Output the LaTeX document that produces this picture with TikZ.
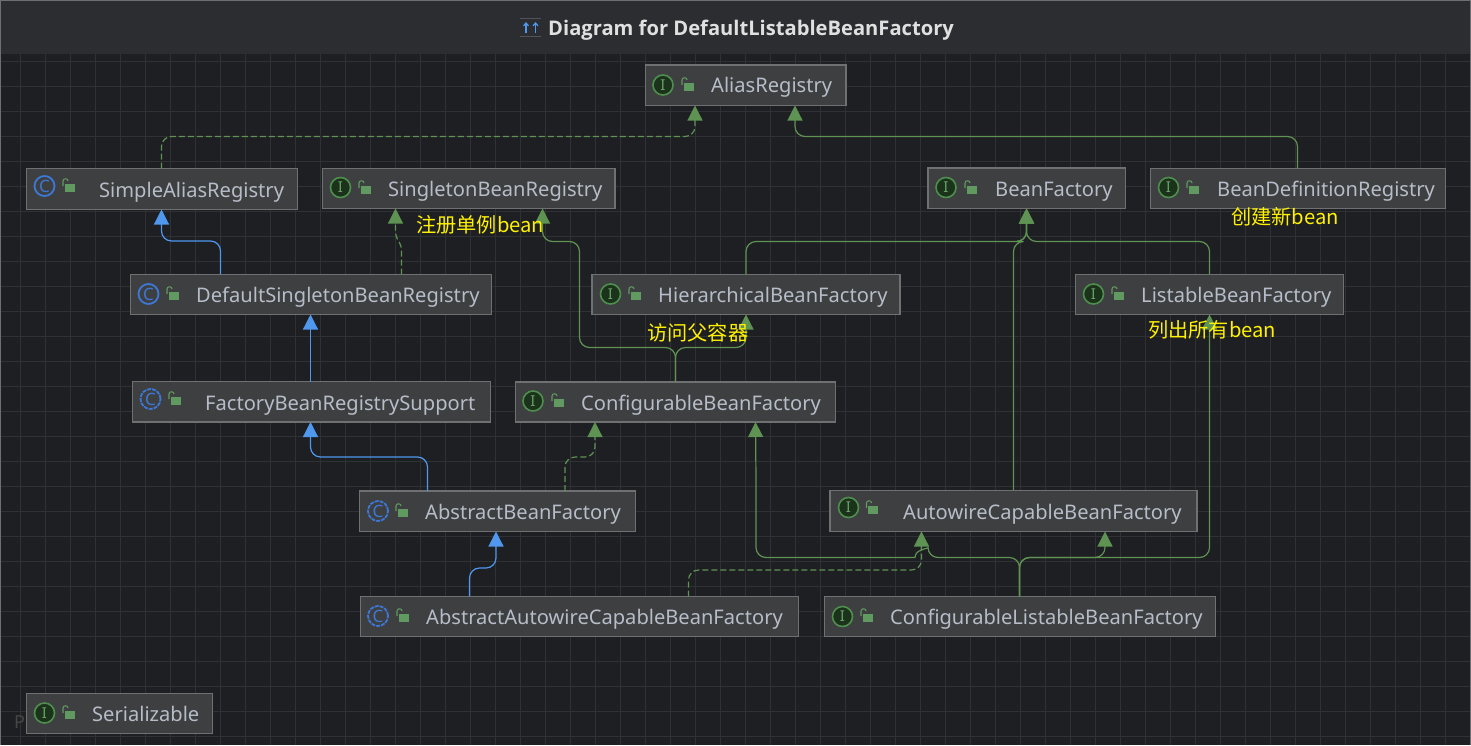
\documentclass[tikz,border=0pt]{standalone}
\usepackage{fontspec}
\setmainfont{Noto Sans}
\newfontfamily\cjk{Noto Sans CJK SC}
\newfontfamily\headfont{Open Sans}
\usetikzlibrary{arrows.meta}
\definecolor{canvasbg}{HTML}{1E1F22}
\definecolor{gridcol}{HTML}{303134}
\definecolor{barbg}{HTML}{2B2D30}
\definecolor{boxbg}{HTML}{3E3F41}
\definecolor{boxline}{HTML}{6F7071}
\definecolor{namecol}{HTML}{B7BDC8}
\definecolor{greenline}{HTML}{5F9353}
\definecolor{greentip}{HTML}{5F9353}
\definecolor{blueline}{HTML}{4F98EE}
\definecolor{classcol}{HTML}{3D78D6}
\definecolor{ifacecol}{HTML}{4E8F4E}
\begin{document}
\begin{tikzpicture}[x=1pt,y=-1pt,
box/.style={draw=boxline,fill=boxbg,line width=1.2pt,inner sep=0pt,outer sep=0pt},
cname/.style={anchor=west,inner sep=0pt,text height=20pt,text depth=5pt,text=namecol,font=\fontsize{20.1}{24}\selectfont},
iface/.style={circle,draw=ifacecol,fill=ifacecol!35!black,line width=1.6pt,minimum size=20pt,inner sep=0pt,text=ifacecol!85!white,font=\fontsize{15}{16}\selectfont},
classic/.style={circle,draw=classcol,line width=1.8pt,minimum size=20pt,inner sep=0pt,text=classcol,font=\fontsize{17}{17}\selectfont},
abstractic/.style={classic,dash pattern=on 4pt off 1pt},
padlock/.pic={\fill[ifacecol!90!white] (-4.5,-3.5) rectangle (5.5,4.5);
  \draw[ifacecol!90!white,line width=1.1pt] (-6,-1) -- (-6,-6) .. controls (-6,-9) and (-1,-9) .. (-1,-6);},
note/.style={inner sep=0pt,text=yellow,font=\cjk\fontsize{20.2}{24}\selectfont},
implements/.style={draw=greenline,line width=1.2pt,rounded corners=10pt,dash pattern=on 6pt off 3pt,-{Triangle[length=15pt,width=15pt,fill=greentip,color=greentip]}},
extendsif/.style={draw=greenline,line width=1.2pt,rounded corners=10pt,-{Triangle[length=15pt,width=15pt,fill=greentip,color=greentip]}},
extendscl/.style={draw=blueline,line width=1.2pt,rounded corners=10pt,-{Triangle[length=15pt,width=15pt,fill=blueline,color=blueline]}}
]
\useasboundingbox (0,0) rectangle (1471,745);
\fill[canvasbg] (0,0) rectangle (1471,745);
\draw[gridcol,line width=0.9pt,shift={(20.5,11)}] (-20.5,43) grid[step=25pt] (1450.5,734);
\fill[barbg] (0,0) rectangle (1471,54);
\draw[gridcol!70!white,line width=1pt] (0.5,745) -- (0.5,0.5) -- (1470.5,0.5) -- (1470.5,745);

% title bar
\draw[boxline!120!white,line width=1pt] (520,18.5) -- (541,18.5) (520,36) -- (541,36);
\draw[blueline,line width=1.2pt,-{Straight Barb[length=3pt,width=5pt]}] (526,33) -- (526,22);
\draw[blueline,line width=1.2pt,-{Straight Barb[length=3pt,width=5pt]}] (535.5,33) -- (535.5,22);
\node[anchor=west,inner sep=0pt,text=white!88!black,font=\headfont\fontsize{20.15}{24}\selectfont\bfseries] (title) at (548,30) {Diagram for DefaultListableBeanFactory};

% faint watermark under the last box
\node[anchor=west,inner sep=0pt,text=gridcol!90!white,font=\fontsize{18}{20}\selectfont] (mark) at (14,722) {P};

% classes
\node[box,minimum width=200.5pt,minimum height=40.5pt] (aliasReg) at (745.75,85.25) {};
\node[iface] (aliasRegI) at (663,85) {I}; \pic at (688,86) {padlock}; \node[cname] (aliasRegT) at (711,85) {AliasRegistry};

\node[box,minimum width=271pt,minimum height=41pt] (simpleAlias) at (162,189) {};
\node[classic] (simpleAliasI) at (44.5,186) {C}; \pic at (69,187) {padlock}; \node[cname] (simpleAliasT) at (99,190) {SimpleAliasRegistry};

\node[box,minimum width=292.5pt,minimum height=40pt] (singletonReg) at (468.75,188.5) {};
\node[iface] (singletonRegI) at (340.5,187.5) {I}; \pic at (365,189) {padlock}; \node[cname] (singletonRegT) at (388,189) {SingletonBeanRegistry};

\node[box,minimum width=197.5pt,minimum height=40.5pt] (beanFactory) at (1026.75,188.25) {};
\node[iface] (beanFactoryI) at (946,187.5) {I}; \pic at (971,189) {padlock}; \node[cname] (beanFactoryT) at (995,189) {BeanFactory};

\node[box,minimum width=295pt,minimum height=40pt] (beanDefReg) at (1298,188.5) {};
\node[iface] (beanDefRegI) at (1168.5,187.5) {I}; \pic at (1193,189) {padlock}; \node[cname] (beanDefRegT) at (1217,189) {BeanDefinitionRegistry};

\node[box,minimum width=361pt,minimum height=40pt] (defaultSingleton) at (311,294.5) {};
\node[classic] (defaultSingletonI) at (148.5,294) {C}; \pic at (173,295) {padlock}; \node[cname] (defaultSingletonT) at (196,295) {DefaultSingletonBeanRegistry};

\node[box,minimum width=308pt,minimum height=40pt] (hierarchical) at (746,294.5) {};
\node[iface] (hierarchicalI) at (610.5,294) {I}; \pic at (635,295) {padlock}; \node[cname] (hierarchicalT) at (658,295) {HierarchicalBeanFactory};

\node[box,minimum width=268pt,minimum height=40pt] (listable) at (1209.5,294.5) {};
\node[iface] (listableI) at (1093.5,294) {I}; \pic at (1118,295) {padlock}; \node[cname] (listableT) at (1141,295) {ListableBeanFactory};

\node[box,minimum width=358pt,minimum height=40.5pt] (factorySupport) at (311.5,401.75) {};
\node[abstractic] (factorySupportI) at (150.5,399) {C}; \pic at (175,400) {padlock}; \node[cname] (factorySupportT) at (205,403) {FactoryBeanRegistrySupport};

\node[box,minimum width=320pt,minimum height=40pt] (configurable) at (675.5,402) {};
\node[iface] (configurableI) at (533,401) {I}; \pic at (558,402) {padlock}; \node[cname] (configurableT) at (581,403) {ConfigurableBeanFactory};

\node[box,minimum width=276pt,minimum height=40.5pt] (abstractBean) at (497.5,511.25) {};
\node[abstractic] (abstractBeanI) at (378,511) {C}; \pic at (402,512) {padlock}; \node[cname] (abstractBeanT) at (425,512) {AbstractBeanFactory};

\node[box,minimum width=367pt,minimum height=41pt] (autowire) at (1013.5,511) {};
\node[iface] (autowireI) at (848.5,507.5) {I}; \pic at (872.5,509) {padlock}; \node[cname] (autowireT) at (903,512) {AutowireCapableBeanFactory};

\node[box,minimum width=438pt,minimum height=40pt] (abstractAuto) at (579.5,616.5) {};
\node[abstractic] (abstractAutoI) at (378,616) {C}; \pic at (403,617) {padlock}; \node[cname] (abstractAutoT) at (426,617) {AbstractAutowireCapableBeanFactory};

\node[box,minimum width=391pt,minimum height=40pt] (configList) at (1020,616.5) {};
\node[iface] (configListI) at (842.5,616.5) {I}; \pic at (867,617) {padlock}; \node[cname] (configListT) at (890,617) {ConfigurableListableBeanFactory};

\node[box,minimum width=186pt,minimum height=40pt] (serial) at (119.5,713.5) {};
\node[iface] (serialI) at (44.5,713) {I}; \pic at (69,714) {padlock}; \node[cname] (serialT) at (92,714) {Serializable};

% blue: class extends class
\draw[extendscl] ([xshift=-90.5pt]defaultSingleton.north) -- (220.5,241) -- (161.5,241) -- ([xshift=-0.5pt]simpleAlias.south);
\draw[extendscl] ([xshift=-1pt]factorySupport.north) -- ([xshift=-0.5pt]defaultSingleton.south);
\draw[extendscl] ([xshift=-70pt]abstractBean.north) -- (427.5,457) -- (310.5,457) -- ([xshift=-1pt]factorySupport.south);
\draw[extendscl] ([xshift=-28pt]abstractBean.south |- abstractAuto.north) -- (469.5,568) -- (496,568) -- ([xshift=-1.5pt]abstractBean.south);

% green dashed: implements
\draw[implements] ([xshift=-0.5pt]simpleAlias.north) -- (161.5,136.5) -- (695,136.5) -- ([xshift=-50.75pt]aliasReg.south);
\draw[implements,rounded corners=4pt] ([xshift=90.5pt]defaultSingleton.north) -- (401.5,246) -- (395.5,236) -- ([xshift=-73.25pt]singletonReg.south);
\draw[implements] ([xshift=67.5pt]abstractBean.north) -- (565,457) -- (595,457) -- ([xshift=-80.5pt]configurable.south);
\draw[implements] ([xshift=109pt]abstractAuto.north) -- (688.5,570) -- (921.5,570) -- ([xshift=-92pt]autowire.south);

% green: interface extends interface
\draw[extendsif] ([xshift=-0.5pt]beanDefReg.north) -- (1297.5,136.5) -- (795,136.5) -- ([xshift=49.25pt]aliasReg.south);
\draw[extendsif] (hierarchical.north) -- (746,241.5) -- (1026.5,241.5) -- ([xshift=-0.25pt]beanFactory.south);
\draw[extendsif] (listable.north) -- (1209.5,241.5) -- (1026.5,241.5) -- ([xshift=-0.25pt]beanFactory.south);
\draw[extendsif] (autowire.north) -- (1013.5,241.5) -- (1026.5,241.5) -- ([xshift=-0.25pt]beanFactory.south);
\draw[extendsif] (configurable.north) -- (675.5,347.5) -- (579.5,347.5) -- (579.5,241.5) -- (542.5,241.5) -- ([xshift=73.75pt]singletonReg.south);
\draw[extendsif] (configurable.north) -- (675.5,347.5) -- (746,347.5) -- (hierarchical.south);
\draw[extendsif] ([xshift=-0.5pt]configList.north) -- (1019.5,557.5) -- (1105,557.5) -- ([xshift=91.5pt]autowire.south);
\draw[extendsif] ([xshift=-0.5pt]configList.north) -- (1019.5,557.5) -- (1209.5,557.5) -- (listable.south);
\draw[extendsif] ([xshift=-0.5pt]configList.north) -- (1019.5,557.5) -- (928,557.5) [sharp corners] .. controls (928,549) and (915,549) .. (915,557.5) [rounded corners=10pt] -- (756,557.5) -- (756,480) -- ([xshift=80pt]configurable.south);

% notes
\node[note,anchor=west] (noteSingleton) at (416,225) {注册单例bean};
\node[note,anchor=west] (noteDefine) at (1231,217) {创建新bean};
\node[note,anchor=west] (noteParent) at (647,333) {访问父容器};
\node[note,anchor=west] (noteList) at (1148,330) {列出所有bean};
\end{tikzpicture}
\end{document}
